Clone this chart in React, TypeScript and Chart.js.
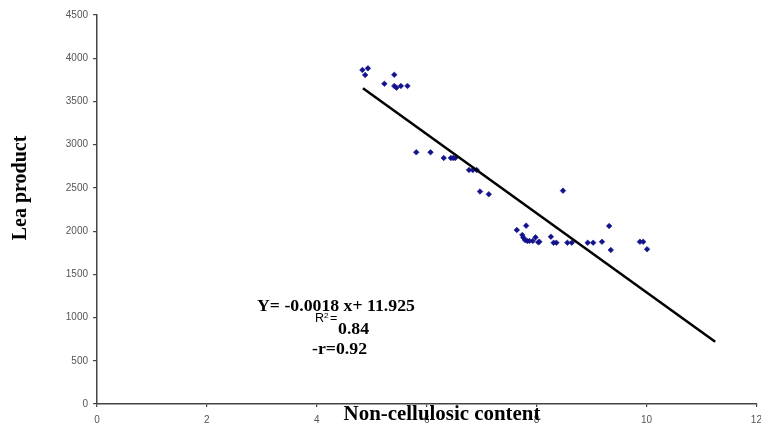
import React, { useEffect, useRef } from "react";
import { Chart, registerables } from "chart.js";

Chart.register(...registerables);

// Scatter data: non-cellulosic content (x) vs Lea product (y)
const contentX = [
  4.83, 4.93, 4.88, 5.41, 5.23, 5.41, 5.45, 5.53, 5.65,
  5.81, 6.07, 6.31, 6.44, 6.48, 6.52, 6.77, 6.84, 6.91, 6.97, 7.13,
  8.48, 7.64, 7.81, 7.74, 7.76, 7.79, 7.83, 7.87, 7.93, 7.98, 8.03, 8.05,
  8.26, 8.31, 8.36, 8.56, 8.64, 8.93, 9.03, 9.19, 9.32, 9.35, 9.88, 9.94, 10.01,
];
const leaProduct = [
  3864, 3883, 3806, 3809, 3705, 3679, 3659, 3679, 3679,
  2912, 2912, 2846, 2846, 2846, 2846, 2707, 2707, 2707, 2458, 2426,
  2468, 2013, 2063, 1955, 1924, 1897, 1886, 1886, 1886, 1928, 1871, 1877,
  1935, 1866, 1866, 1866, 1866, 1866, 1866, 1877, 2059, 1781, 1877, 1877, 1790,
];

// Trend line end points
const trendX = [4.84, 11.25];
const trendY = [3652, 721];

// Axis ticks
const xTickValues = [0, 2, 4, 6, 8, 10, 12];
const yTickValues = [0, 500, 1000, 1500, 2000, 2500, 3000, 3500, 4000, 4500];

// Texts
const xTitle = "Non-cellulosic content";
const yTitle = "Lea product";
const eqLine1 = "Y= -0.0018 x+ 11.925";
const eqR = "R";
const eqSup = "2";
const eqEq = "=";
const eqR2 = "0.84";
const eqLine3 = "-r=0.92";

const SERIF = '"Liberation Serif", "Times New Roman", serif';
const SANS = '"Liberation Sans", Arial, sans-serif';
const STRETCH = 1.045;

function stretchedText(ctx: CanvasRenderingContext2D, text: string, x: number, y: number, align: CanvasTextAlign) {
  ctx.save();
  ctx.translate(x, y);
  ctx.scale(STRETCH, 1);
  ctx.textAlign = align;
  ctx.fillText(text, 0, 0);
  ctx.restore();
}

const textPlugin = {
  id: "textPlugin",
  afterDraw(chart: any) {
    const ctx = chart.ctx as CanvasRenderingContext2D;
    ctx.save();
    ctx.fillStyle = "#000";
    ctx.textBaseline = "alphabetic";

    // X title
    ctx.font = `bold 20px ${SERIF}`;
    stretchedText(ctx, xTitle, 442, 420, "center");

    // Y title
    ctx.save();
    ctx.translate(26, 188);
    ctx.rotate(-Math.PI / 2);
    ctx.textAlign = "center";
    ctx.fillText(yTitle, 0, 0);
    ctx.restore();

    // Equation
    ctx.font = `bold 17px ${SERIF}`;
    stretchedText(ctx, eqLine1, 257, 310.5, "left");

    ctx.font = `12px ${SANS}`;
    stretchedText(ctx, eqR, 315, 322, "left");
    ctx.font = `8px ${SANS}`;
    stretchedText(ctx, eqSup, 324, 318, "left");
    ctx.font = `12px ${SANS}`;
    stretchedText(ctx, eqEq, 330, 322, "left");
    ctx.font = `bold 17px ${SERIF}`;
    stretchedText(ctx, eqR2, 338, 333.5, "left");

    stretchedText(ctx, eqLine3, 312, 353.5, "left");
    ctx.restore();
  },
};

export default function App() {
  const ref = useRef<HTMLCanvasElement | null>(null);

  useEffect(() => {
    if (!ref.current) return;
    const points = contentX.map((x, i) => ({ x, y: leaProduct[i] }));
    const trend = trendX.map((x, i) => ({ x, y: trendY[i] }));
    const chart = new Chart(ref.current, {
      type: "scatter",
      data: {
        datasets: [
          {
            type: "line",
            data: trend,
            borderColor: "#000",
            borderWidth: 2.5,
            pointRadius: 0,
            fill: false,
          } as any,
          {
            data: points,
            pointStyle: "rectRot",
            pointRadius: 2.8,
            backgroundColor: "#12128c",
            borderColor: "#12128c",
            borderWidth: 0.6,
          },
        ],
      },
      options: {
        animation: false,
        responsive: false,
        events: [],
        layout: { padding: { left: 0, right: 4, top: 15, bottom: 0 } },
        plugins: { legend: { display: false }, tooltip: { enabled: false } },
        scales: {
          x: {
            type: "linear",
            min: 0,
            max: 12,
            afterBuildTicks: (s: any) => {
              s.ticks = xTickValues.map((v) => ({ value: v }));
            },
            afterFit: (s: any) => {
              s.height = 23;
              s.paddingRight = 0;
              s.paddingLeft = 0;
            },
            grid: { drawOnChartArea: false, drawTicks: true, tickLength: 3, color: "#444", lineWidth: 1.2 },
            border: { display: true, color: "#444", width: 1.5 },
            ticks: {
              padding: 7,
              color: "#555",
              font: { size: 10, family: SANS },
              maxRotation: 0,
              callback: (v: any) => String(v),
            },
          },
          y: {
            type: "linear",
            min: 0,
            max: 4500,
            afterBuildTicks: (s: any) => {
              s.ticks = yTickValues.map((v) => ({ value: v }));
            },
            afterFit: (s: any) => {
              s.width = 97;
              s.paddingTop = 0;
              s.paddingBottom = 0;
            },
            grid: { drawOnChartArea: false, drawTicks: true, tickLength: 4, color: "#444", lineWidth: 1.2 },
            border: { display: true, color: "#444", width: 1.5 },
            ticks: {
              padding: 5,
              color: "#555",
              font: { size: 10, family: SANS },
              callback: (v: any) => String(v),
            },
          },
        },
      },
      plugins: [textPlugin],
    });
    return () => chart.destroy();
  }, []);

  return (
    <div style={{ position: "fixed", left: 0, top: 0, width: 761, height: 427, background: "#fff" }}>
      <canvas ref={ref} width={761} height={427} style={{ display: "block" }} />
    </div>
  );
}
